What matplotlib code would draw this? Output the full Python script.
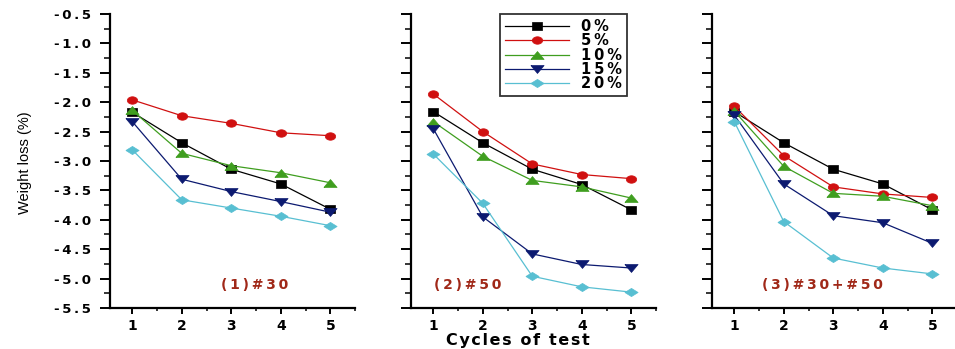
import matplotlib
matplotlib.use("Agg")
import numpy as np
import matplotlib.pyplot as plt
from matplotlib.ticker import MultipleLocator, FuncFormatter

plt.rcParams['font.family'] = ['DejaVu Sans']

cycles = [1, 2, 3, 4, 5]
labels = ['0%', '5%', '10%', '15%', '20%']
panel_titles = ['(1)#30', '(2)#50', '(3)#30+#50']

# panel 1: #30
p1_0 = [-2.17, -2.69, -3.14, -3.39, -3.82]
p1_5 = [-1.96, -2.23, -2.36, -2.52, -2.57]
p1_10 = [-2.14, -2.87, -3.08, -3.20, -3.37]
p1_15 = [-2.33, -3.31, -3.52, -3.69, -3.87]
p1_20 = [-2.81, -3.66, -3.80, -3.94, -4.10]

# panel 2: #50
p2_0 = [-2.16, -2.69, -3.14, -3.40, -3.83]
p2_5 = [-1.86, -2.50, -3.05, -3.23, -3.30]
p2_10 = [-2.33, -2.92, -3.33, -3.44, -3.63]
p2_15 = [-2.45, -3.95, -4.58, -4.76, -4.82]
p2_20 = [-2.88, -3.72, -4.96, -5.14, -5.23]

# panel 3: #30+#50
p3_0 = [-2.16, -2.69, -3.14, -3.39, -3.83]
p3_5 = [-2.07, -2.91, -3.44, -3.56, -3.62]
p3_10 = [-2.15, -3.09, -3.55, -3.60, -3.76]
p3_15 = [-2.22, -3.39, -3.93, -4.05, -4.40]
p3_20 = [-2.33, -4.03, -4.65, -4.82, -4.92]

panels = [
    [p1_0, p1_5, p1_10, p1_15, p1_20],
    [p2_0, p2_5, p2_10, p2_15, p2_20],
    [p3_0, p3_5, p3_10, p3_15, p3_20],
]

colors = ['black', '#d01010', '#3f9e1f', '#0c1a70', '#58bfd2']

# the original picture is stretched sideways, so markers are wider than tall
th = np.linspace(0, 2 * np.pi, 25)
m_square = [(-1, -0.7), (1, -0.7), (1, 0.7), (-1, 0.7), (-1, -0.7)]
m_circle = list(zip(np.cos(th), 0.72 * np.sin(th)))
m_up = [(-1, -0.6), (1, -0.6), (0, 0.6), (-1, -0.6)]
m_down = [(-1, 0.6), (1, 0.6), (0, -0.6), (-1, 0.6)]
m_diamond = [(-1, 0), (0, 0.62), (1, 0), (0, -0.62), (-1, 0)]
markers = [m_square, m_circle, m_up, m_down, m_diamond]
msizes = [7.5, 7.5, 9.5, 9.5, 9.5]

THIN = '\u2009'
HAIR = '\u200a'


def spaced(s, sep=THIN):
    return sep.join(s)


fig = plt.figure(figsize=(9.55, 3.49), dpi=100)
W, H = 955.0, 349.0
lefts = [110, 411, 712]
title_x = [255, 468, 822]
axes = []
for i, left in enumerate(lefts):
    ax = fig.add_axes([left / W, 1 - 308 / H, 245 / W, 294 / H])
    axes.append(ax)
    for j, series in enumerate(panels[i]):
        ax.plot(cycles, series, color=colors[j], marker=markers[j],
                markersize=msizes[j], lw=0.9, label=spaced(labels[j]),
                markeredgecolor=colors[j], markeredgewidth=0.5)
    ax.set_xlim(0.55, 5.5)
    ax.set_ylim(-5.5, -0.5)
    ax.spines['top'].set_visible(False)
    ax.spines['right'].set_visible(False)
    ax.spines['left'].set_linewidth(1.6)
    ax.spines['bottom'].set_linewidth(1.6)
    ax.xaxis.set_major_locator(MultipleLocator(1))
    ax.xaxis.set_minor_locator(MultipleLocator(0.5))
    ax.yaxis.set_major_locator(MultipleLocator(0.5))
    ax.yaxis.set_minor_locator(MultipleLocator(0.25))
    ax.tick_params(axis='y', which='major', direction='out', length=7.5,
                   width=1.4, labelsize=9.5, pad=6)
    ax.tick_params(axis='y', which='minor', direction='out', length=4.5,
                   width=1.1)
    ax.tick_params(axis='x', which='major', direction='out', length=4,
                   width=1.4, labelsize=10, pad=4)
    ax.tick_params(axis='x', which='minor', direction='out', length=2.5,
                   width=1.1)
    ax.yaxis.set_major_formatter(FuncFormatter(lambda v, p: spaced('%.1f' % v)))
    if i > 0:
        ax.tick_params(axis='y', labelleft=False)
    for t in ax.get_xticklabels() + ax.get_yticklabels():
        t.set_fontweight('bold')
    fig.text(title_x[i] / W, 1 - 285 / H, spaced(panel_titles[i]),
             ha='center', va='center', color='#a02818', fontsize=10,
             fontweight='bold')

fig.text(25 / W, 1 - 163 / H, 'Weight loss (%)', rotation=90,
         ha='center', va='center', fontsize=10.5,
         family=['Liberation Sans Narrow', 'Liberation Sans'])
fig.text(518 / W, 1 - 340 / H, spaced('Cycles of test', HAIR),
         ha='center', va='center', fontsize=11.5, fontweight='bold')

leg = axes[1].legend(loc='upper right', bbox_to_anchor=(0.882, 1.0),
                     frameon=True, fancybox=False, edgecolor='black',
                     fontsize=10.5, handlelength=4.4, borderpad=0.35,
                     labelspacing=-0.05, handletextpad=0.8,
                     borderaxespad=0)
leg.get_frame().set_linewidth(1.3)
for t in leg.get_texts():
    t.set_fontweight('bold')

fig.savefig('out.png', dpi=100)
